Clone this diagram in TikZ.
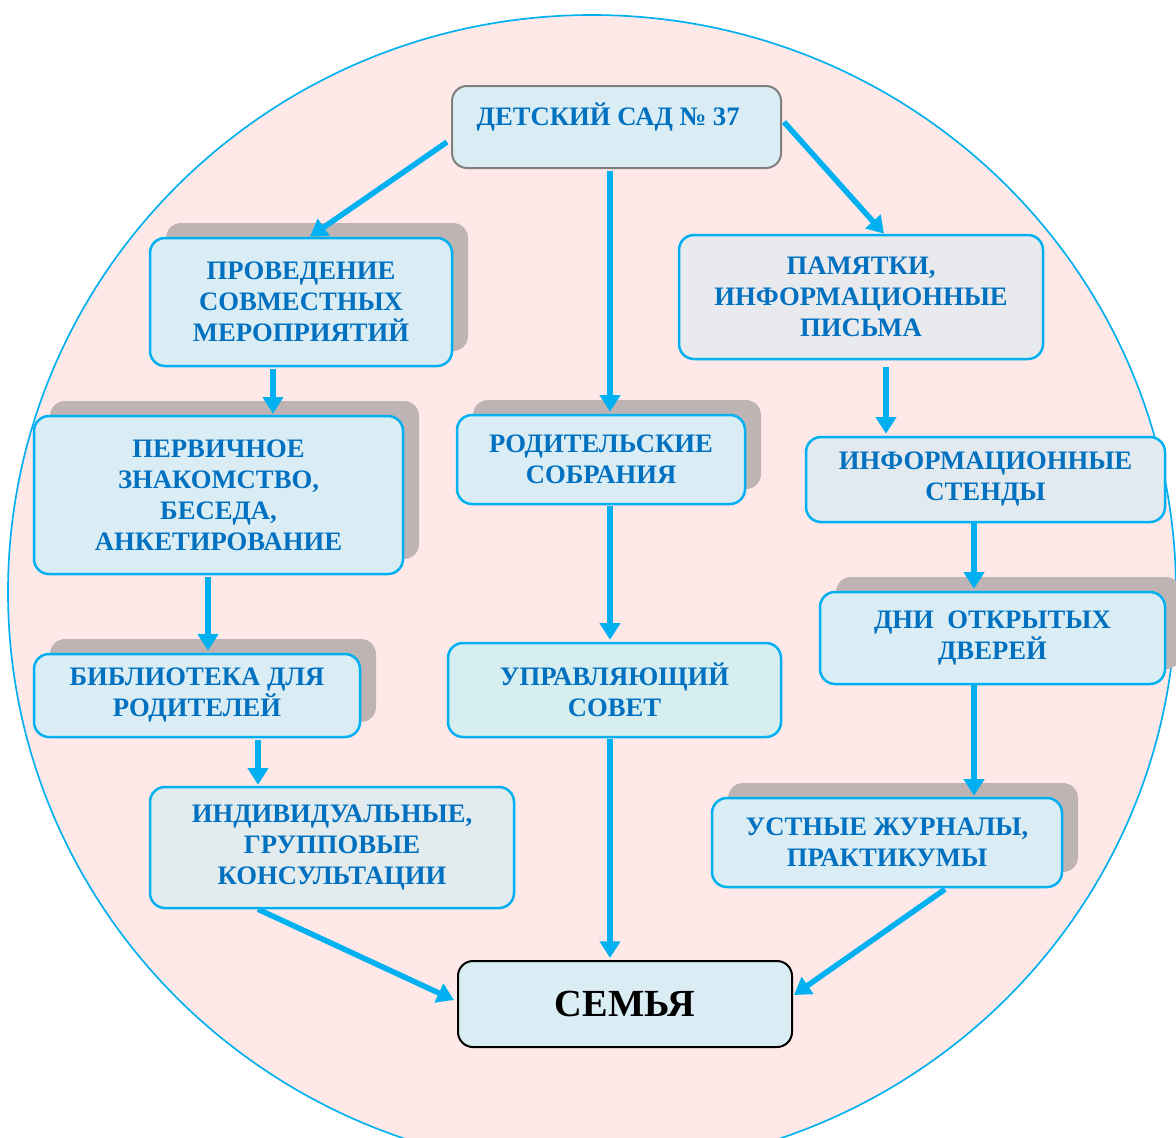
\documentclass[tikz,border=0pt]{standalone}
\usepackage{fontspec}
\setmainfont{Liberation Serif}
\usetikzlibrary{arrows.meta,calc,shadows}
\definecolor{pinkbg}{RGB}{255,232,232}
\definecolor{cyanline}{RGB}{0,176,240}
\definecolor{boxblue}{RGB}{218,237,244}
\definecolor{boxgray}{RGB}{233,234,238}
\definecolor{boxgreygreen}{RGB}{226,236,238}
\definecolor{boxmint}{RGB}{214,238,240}
\definecolor{boxsteel}{RGB}{226,234,240}
\definecolor{shadowgray}{RGB}{190,180,180}
\definecolor{textblue}{RGB}{0,112,192}
\tikzset{
  box/.style={draw=cyanline,line width=1.5pt,rounded corners=9pt,fill=boxblue,
    text=textblue,font=\bfseries\fontsize{16}{18.6}\selectfont,align=center,inner sep=0pt},
  shadowed/.style={drop shadow={shadow xshift=9.6pt,shadow yshift=9pt,opacity=1,fill=shadowgray}},
  arr/.style={draw=cyanline,line width=3.3pt,-{Triangle[length=10pt,width=12pt]}}
}
\begin{document}
\begin{tikzpicture}[x=0.6pt,y=-0.6pt]
        \useasboundingbox (0,0) rectangle (1176,1137);
        \clip (0,0) rectangle (1176,1137);
        %% Background
        \draw[draw=cyanline,line width=1pt,fill=pinkbg] (592,592) ellipse (584 and 577);
        %% Boxes
        \node[box,draw=gray,line width=1.2pt,minimum width=329*0.6pt,minimum height=82*0.6pt,
          text height=11.4pt,text depth=13.8pt] (sad) at (616.5,127) {ДЕТСКИЙ САД №~37\hspace{10pt}};
        \node[box,shadowed,minimum width=302*0.6pt,minimum height=128*0.6pt] (sovm) at (301,302)
          {ПРОВЕДЕНИЕ\\СОВМЕСТНЫХ\\МЕРОПРИЯТИЙ};
        \node[box,shadowed,minimum width=369*0.6pt,minimum height=158*0.6pt] (znak) at (218.5,495)
          {ПЕРВИЧНОЕ\\ЗНАКОМСТВО,\\БЕСЕДА,\\АНКЕТИРОВАНИЕ};
        \node[box,shadowed,minimum width=326*0.6pt,minimum height=83*0.6pt] (bibl) at (197,695.5)
          {БИБЛИОТЕКА ДЛЯ\\РОДИТЕЛЕЙ};
        \node[box,fill=boxgreygreen,minimum width=364*0.6pt,minimum height=121*0.6pt] (kons) at (332,847.5)
          {ИНДИВИДУАЛЬНЫЕ,\\ГРУППОВЫЕ\\КОНСУЛЬТАЦИИ};
        \node[box,shadowed,minimum width=288*0.6pt,minimum height=89*0.6pt] (sobr) at (601,459.5)
          {РОДИТЕЛЬСКИЕ\\СОБРАНИЯ};
        \node[box,fill=boxmint,minimum width=333*0.6pt,minimum height=94*0.6pt] (sovet) at (614.5,690)
          {УПРАВЛЯЮЩИЙ\\СОВЕТ};
        \node[box,fill=boxgray,minimum width=364*0.6pt,minimum height=124*0.6pt] (pamt) at (861,297)
          {ПАМЯТКИ,\\ИНФОРМАЦИОННЫЕ\\ПИСЬМА};
        \node[box,fill=boxsteel,minimum width=359*0.6pt,minimum height=85*0.6pt] (stend) at (985.5,479.5)
          {ИНФОРМАЦИОННЫЕ\\СТЕНДЫ};
        \node[box,shadowed,minimum width=345*0.6pt,minimum height=92*0.6pt] (dver) at (992.5,638)
          {ДНИ\ \ ОТКРЫТЫХ\\ДВЕРЕЙ};
        \node[box,shadowed,minimum width=350*0.6pt,minimum height=89*0.6pt] (zhur) at (887,842.5)
          {УСТНЫЕ ЖУРНАЛЫ,\\ПРАКТИКУМЫ};
        \node[box,draw=black,line width=1.2pt,text=black,font=\bfseries\fontsize{23}{26}\selectfont,
          minimum width=334*0.6pt,minimum height=86*0.6pt] (semya) at (625,1004) {СЕМЬЯ};
        %% Arrows
        \draw[arr] ($(sad.west)+(-4,15)$) -- ($(sovm.north)+(9,0)$);
        \draw[arr] ($(sad.south)+(-6.5,2)$) -- ($(sobr.north)+(9,-2)$);
        \draw[arr] ($(sad.east)+(2,-5)$) -- ($(pamt.north)+(23,0)$);
        \draw[arr] ($(sovm.south)+(-28,2)$) -- ($(znak.north)+(54.5,-1)$);
        \draw[arr] ($(znak.south)+(-10.5,2)$) -- ($(bibl.north)+(11,-2)$);
        \draw[arr] ($(bibl.south)+(61,2)$) -- ($(kons.north)+(-74,-1)$);
        \draw[arr] ($(kons.south)+(-74,0)$) -- ($(semya.west)+(-3,-4)$);
        \draw[arr] ($(sobr.south)+(9,1)$) -- ($(sovet.north)+(-4.5,-2)$);
        \draw[arr] ($(sovet.south)+(-4.5,1)$) -- ($(semya.north)+(-15,-2)$);
        \draw[arr] ($(pamt.south)+(25,7)$) -- ($(stend.north)+(-99.5,-2)$);
        \draw[arr] ($(stend.south)+(-11.5,0)$) -- ($(dver.north)+(-18.5,-2)$);
        \draw[arr] ($(dver.south)+(-18.5,0)$) -- ($(zhur.north)+(87,-1)$);
        \draw[arr] ($(zhur.south)+(58,1)$) -- ($(semya.east)+(1,-9)$);
\end{tikzpicture}
\end{document}
